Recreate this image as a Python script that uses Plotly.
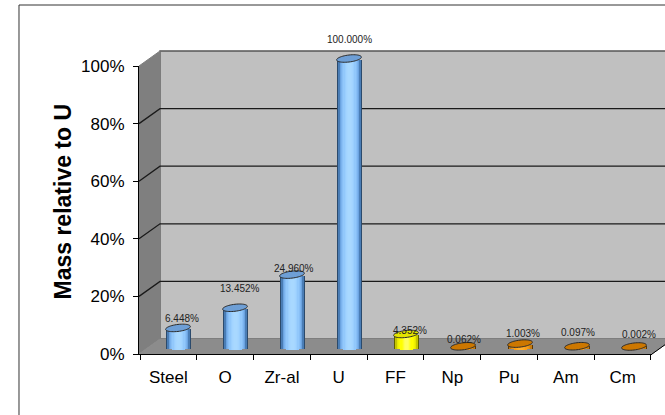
import numpy as np
import plotly.graph_objects as go

categories = ["Steel", "O", "Zr-al", "U", "FF", "Np", "Pu", "Am", "Cm"]
mass_percent = [6.448, 13.452, 24.960, 100.000, 4.352, 0.062, 1.003, 0.097, 0.002]
group = ["blue", "blue", "blue", "blue", "yellow", "orange", "orange", "orange", "orange"]
y_ticks = [0, 20, 40, 60, 80, 100]
y_tick_labels = ["0%", "20%", "40%", "60%", "80%", "100%"]

# Shade ramps from the cylinder rim to its centre line, and the cap fill
ramps = {
    "blue": ["#2b4a6c", "#4a7db5", "#6ba3e0", "#7bb3ee", "#88bff6", "#92c8fb", "#9bcffe", "#a2d4ff", "#a6d6ff", "#a8d8ff"],
    "yellow": ["#5e5e00", "#c4c400", "#e6e600", "#f2f200", "#fafa00", "#ffff00", "#ffff10", "#ffff30", "#ffff50", "#ffff60"],
    "orange": ["#5c3600", "#c47a10", "#e08c10", "#ec9410", "#f49a14", "#fa9e18", "#ffa41c", "#ffaa24", "#ffae2c", "#ffb030"],
}
cap_fill = {"blue": "#6e9fd6", "yellow": "#e4e400", "orange": "#cc7700"}

W, H = 665, 415
# Pixel layout of the pseudo-3D box
FX0, FX1, FY0, FY1 = 139, 652, 354, 66   # front plane
DX, DY = 21, 15                          # wall depth offset
PX_CAT = (FX1 - FX0) / len(categories)
PX_UNIT = (FY0 - FY1) / 100
RADIUS, CAP, TILT = 12.4, 3.5, 1.4       # cylinder half width, cap half height, cap slope


def px(x):
    return x / W


def py(y):
    return 1 - y / H


fig = go.Figure()

# Hidden axes for the plane that runs through the middle of the box
mid_x0 = FX0 + DX / 2
mid_y0 = FY0 - DY / 2
x2_range = [-0.5, (W - mid_x0) / PX_CAT - 0.5]
y2_lo, y2_hi = -5, 105
n_layers = len(ramps["blue"])
half_widths = np.linspace(RADIUS, 1.2, n_layers)
positions = np.arange(len(categories))

# Invisible trace that carries the labelled category axis
fig.add_trace(go.Scatter(x=categories, y=mass_percent, mode="markers",
                         marker=dict(opacity=0), hoverinfo="skip", showlegend=False))

for k, hw in enumerate(half_widths):
    inner = half_widths[k + 1] if k + 1 < n_layers else hw
    drop = CAP * np.sqrt(1 - (inner / RADIUS) ** 2) + (0.7 if k == 0 else 0)
    top_trim = TILT * hw / RADIUS
    fig.add_trace(go.Bar(
        x=positions,
        y=[max(v - top_trim / PX_UNIT, 0) + drop / PX_UNIT for v in mass_percent],
        base=-drop / PX_UNIT,
        width=2 * hw / PX_CAT,
        xaxis="x2",
        yaxis="y2",
        marker=dict(color=[ramps[g][k] for g in group], line=dict(width=0)),
        hoverinfo="skip",
        showlegend=False,
    ))

shapes = []


def poly(points, fill, line="#5a5a5a", width=1):
    path = "M " + " L ".join(f"{px(a):.5f} {py(b):.5f}" for a, b in points) + " Z"
    shapes.append(dict(type="path", xref="paper", yref="paper", path=path,
                       fillcolor=fill, line=dict(color=line, width=width), layer="below"))


# Chart frame, back wall, side wall and floor
poly([(19, 5), (W + 5, 5), (W + 5, H + 5), (19, H + 5)], "white", "#333333", 1)
poly([(FX0 + DX, FY1 - DY), (FX1 + DX, FY1 - DY), (FX1 + DX, FY0 - DY), (FX0 + DX, FY0 - DY)], "#c0c0c0", "#555555", 1.3)
poly([(FX0, FY1), (FX0 + DX, FY1 - DY), (FX0 + DX, FY0 - DY), (FX0, FY0)], "#7f7f7f", "#7f7f7f")
poly([(FX0, FY0), (FX0 + DX, FY0 - DY), (FX1 + DX, FY0 - DY), (FX1, FY0)], "#8c8c8c", "#8c8c8c")

# Gridlines run along the back wall and fold forward along the side wall
for t in y_ticks[1:-1]:
    y = FY0 - t * PX_UNIT
    path = (f"M {px(FX0):.5f} {py(y):.5f} L {px(FX0 + DX):.5f} {py(y - DY):.5f} "
            f"L {px(FX1 + DX):.5f} {py(y - DY):.5f}")
    shapes.append(dict(type="path", xref="paper", yref="paper", path=path,
                       line=dict(color="#1a1a1a", width=1.3), layer="below"))
# Right edge of the floor
shapes.append(dict(type="line", xref="paper", yref="paper", x0=px(FX1), y0=py(FY0),
                   x1=px(FX1 + DX), y1=py(FY0 - DY), line=dict(color="#000000", width=1), layer="below"))

# Cylinder top caps, slightly tilted
angles = np.linspace(0, 2 * np.pi, 49)[:-1]
for i, (v, g) in enumerate(zip(mass_percent, group)):
    cx = i + RADIUS * np.cos(angles) / PX_CAT
    cy = v + (CAP * np.sin(angles) + TILT * np.cos(angles)) / PX_UNIT
    path = "M " + " L ".join(f"{a:.4f} {b:.4f}" for a, b in zip(cx, cy)) + " Z"
    shapes.append(dict(type="path", xref="x2", yref="y2", layer="above", path=path,
                       fillcolor=cap_fill[g], line=dict(color="#2b2b2b", width=1)))

# Value labels are nudged off their bars to keep them readable
label_dx = [3.5, 4.5, 1.5, 0, 4, 0.5, 3, 0.5, 4.5]
label_dy = [9, 19, 6.6, 19.5, 3, 7.3, 10.6, 14, 11.5]
annotations = [
    dict(x=i, y=v, xref="x2", yref="y2", text=f"{v:.3f}%", showarrow=False,
         xshift=dx, yshift=dy, font=dict(size=10, color="#222222"))
    for i, (v, dx, dy) in enumerate(zip(mass_percent, label_dx, label_dy))
]
annotations.append(dict(x=px(62), y=py(201.5), xref="paper", yref="paper", text="<b>Mass relative to U</b>",
                        xanchor="center", yanchor="middle", textangle=-90, showarrow=False,
                        font=dict(size=23, color="#000000")))

fig.update_layout(
    template="none",
    width=W, height=H,
    margin=dict(l=0, r=0, t=0, b=0, autoexpand=False),
    paper_bgcolor="white",
    plot_bgcolor="rgba(0,0,0,0)",
    barmode="overlay",
    bargap=0,
    font=dict(family="Liberation Sans, Arial, sans-serif", color="#000000"),
    shapes=shapes,
    annotations=annotations,
    xaxis=dict(
        domain=[px(FX0), px(FX1)], type="category", categoryorder="array", categoryarray=categories,
        tickson="boundaries", ticks="outside", ticklen=5, tickcolor="#000000", showline=True,
        linecolor="#000000", linewidth=1, showgrid=False, zeroline=False, automargin=False,
        tickfont=dict(size=17), anchor="y", ticklabelstandoff=8,
    ),
    yaxis=dict(
        domain=[py(FY0), py(FY1)], range=[0, 100], tickmode="array", tickvals=y_ticks, ticktext=y_tick_labels,
        ticks="outside", ticklen=5, tickcolor="#000000", showline=True, linecolor="#000000",
        linewidth=1, showgrid=False, zeroline=False, automargin=False, tickfont=dict(size=17),
        anchor="x", ticklabelstandoff=5,
    ),
    xaxis2=dict(
        domain=[px(mid_x0), 1], range=x2_range, visible=False, anchor="y2",
    ),
    yaxis2=dict(
        domain=[py(mid_y0 - y2_lo * PX_UNIT), py(mid_y0 - y2_hi * PX_UNIT)],
        range=[y2_lo, y2_hi], visible=False, anchor="x2",
    ),
)

fig.write_html("out.html")
